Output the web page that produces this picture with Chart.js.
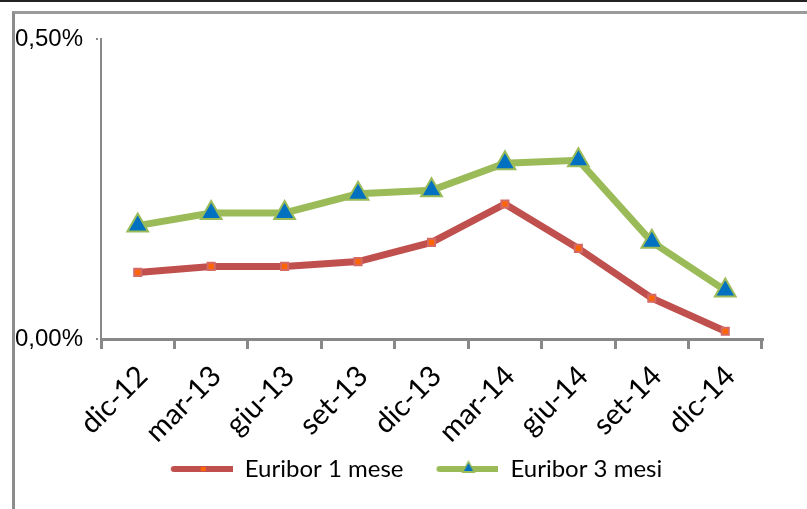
<!DOCTYPE html>
<html>
<head>
<meta charset="utf-8">
<script src="https://cdn.jsdelivr.net/npm/chart.js@4/dist/chart.umd.min.js"></script>
<style>
    html, body { margin: 0; padding: 0; background: #fff; }
    #wrap { position: relative; width: 807px; height: 509px; overflow: hidden; }
    #topline { position: absolute; left: 0; top: 0; width: 807px; height: 2px; background: #222; }
    #frame { position: absolute; left: 12px; top: 11px; width: 900px; height: 600px; border-left: 3px solid #8c8c8c; border-top: 3px solid #9a9a9a; }
    canvas { position: absolute; left: 0; top: 0; }
</style>
</head>
<body>
<div id="wrap">
    <div id="topline"></div>
    <div id="frame"></div>
    <canvas id="chart" width="807" height="509"></canvas>
</div>
<script>
// quarterly Euribor values, %
const labels = ['dic-12', 'mar-13', 'giu-13', 'set-13', 'dic-13', 'mar-14', 'giu-14', 'set-14', 'dic-14'];
const euribor1m = [0.111, 0.121, 0.121, 0.129, 0.161, 0.225, 0.151, 0.068, 0.013];
const euribor3m = [0.189, 0.210, 0.210, 0.242, 0.248, 0.293, 0.298, 0.162, 0.081];
const yTicks = [0, 0.5];

const RED = '#C0504D';
const GREEN = '#9BBB59';

// legend sample: line with marker in the middle
function legendSample(color, marker) {
    const c = document.createElement('canvas');
    c.width = 85; c.height = 22;
    const g = c.getContext('2d');
    g.strokeStyle = color; g.lineWidth = 6; g.lineCap = 'round';
    g.beginPath(); g.moveTo(26, 11); g.lineTo(84, 11); g.stroke();
    if (marker === 'rect') {
        g.fillStyle = '#FF6600';
        g.fillRect(53, 9, 5, 4);
    } else {
        g.fillStyle = GREEN;
        g.beginPath(); g.moveTo(55, 2); g.lineTo(62, 15); g.lineTo(48, 15); g.closePath(); g.fill();
        g.fillStyle = '#0070C0';
        g.beginPath(); g.moveTo(55, 5); g.lineTo(59.5, 13); g.lineTo(50.5, 13); g.closePath(); g.fill();
    }
    return c;
}
const samples = [legendSample(RED, 'rect'), legendSample(GREEN, 'tri')];

// legend sits a bit right of the canvas centre
const legendShift = {
    id: 'legendShift',
    afterLayout(chart) {
        if (!chart.legend) return;
        chart.legend.left += 24;
        chart.legend.right += 24;
    },
};

new Chart(document.getElementById('chart'), {
    type: 'line',
    data: {
        labels: labels,
        datasets: [
            {
                label: 'Euribor 1 mese',
                data: euribor1m,
                borderColor: RED,
                borderWidth: 7,
                pointStyle: 'rect',
                pointRadius: 5,
                pointBackgroundColor: '#FF6600',
                pointBorderColor: '#D46A66',
                pointBorderWidth: 2,
                tension: 0,
                clip: false,
            },
            {
                label: 'Euribor 3 mesi',
                data: euribor3m,
                borderColor: GREEN,
                borderWidth: 7,
                pointStyle: 'triangle',
                pointRadius: 12,
                pointBackgroundColor: '#0070C0',
                pointBorderColor: GREEN,
                pointBorderWidth: 2,
                tension: 0,
                clip: false,
            },
        ],
    },
    plugins: [legendShift],
    options: {
        responsive: false,
        animation: false,
        events: [],
        layout: { padding: { left: 0, right: 45, top: 39, bottom: 18 } },
        plugins: {
            tooltip: { enabled: false },
            legend: {
                position: 'bottom',
                labels: {
                    usePointStyle: true,
                    pointStyleWidth: 85,
                    padding: 10,
                    color: '#000',
                    font: { family: 'Lato', size: 24 },
                    generateLabels: chart => chart.data.datasets.map((ds, i) => ({
                        text: ds.label,
                        pointStyle: samples[i],
                        fontColor: '#000',
                        lineWidth: 0,
                        datasetIndex: i,
                    })),
                },
            },
        },
        scales: {
            x: {
                offset: true,
                grid: { offset: true, drawOnChartArea: false, tickLength: 10, color: '#888', lineWidth: 3 },
                border: { color: '#888', width: 3 },
                ticks: {
                    maxRotation: 45, minRotation: 45, padding: 10, labelOffset: 5, color: '#000',
                    font: { family: 'Lato', size: 29 },
                },
                afterFit: s => { s.height = 108; },
            },
            y: {
                min: 0,
                max: 0.5,
                afterBuildTicks: s => { s.ticks = yTicks.map(v => ({ value: v })); },
                grid: { drawOnChartArea: false, tickLength: 5, color: '#888', lineWidth: 2, tickBorderDash: [2, 2] },
                border: { color: '#888', width: 2, dash: [2, 2] },
                ticks: {
                    padding: 13, color: '#000',
                    font: { family: 'Liberation Sans', size: 24 },
                    callback: v => v.toFixed(2).replace('.', ',') + '%',
                },
                afterFit: s => { s.width = 101; },
            },
        },
    },
});
</script>
</body>
</html>
